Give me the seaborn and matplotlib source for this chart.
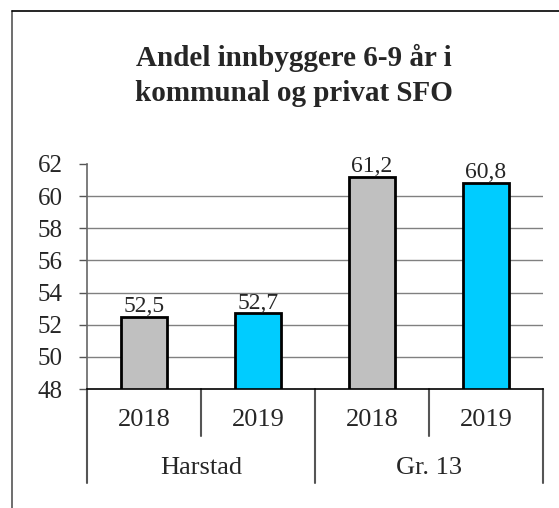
import matplotlib
matplotlib.use("Agg")
import matplotlib.pyplot as plt
import matplotlib.transforms as mtransforms
from matplotlib.lines import Line2D
import seaborn as sns
import pandas as pd

# Data
groups = ["Harstad", "Harstad", "Gr. 13", "Gr. 13"]
years = ["2018", "2019", "2018", "2019"]
values = [52.5, 52.7, 61.2, 60.8]
value_labels = ["52,5", "52,7", "61,2", "60,8"]
title_lines = ["Andel innbyggere 6-9 år i", "kommunal og privat SFO"]
yticks = [48, 50, 52, 54, 56, 58, 60, 62]
colors = {"2018": "#C0C0C0", "2019": "#00CCFF"}

sns.set_theme(style="white")
plt.rcParams["font.family"] = ["Liberation Serif", "DejaVu Serif"]

df = pd.DataFrame({
    "key": [f"{g} {y}" for g, y in zip(groups, years)],
    "year": years,
    "value": values,
})

W, H = 559, 508
fig = plt.figure(figsize=(W / 100, H / 100), dpi=100)
fig.patch.set_facecolor("white")

ax = fig.add_axes([87 / W, (H - 389) / H, (543 - 87) / W, (389 - 164) / H])

sns.barplot(data=df, x="key", y="value", hue="year", palette=colors,
            width=0.4, edgecolor="black", linewidth=2, legend=False,
            dodge=False, saturation=1, ax=ax, zorder=3)

ax.set_ylim(48, 62)
ax.set_xlim(-0.5, 3.5)
ax.set_yticks(yticks)
ax.set_yticklabels([str(t) for t in yticks], fontsize=18)
ax.tick_params(axis="y", length=5.5, width=1, color="#555555", pad=12, left=True)
ax.tick_params(axis="x", length=0, labelbottom=False)
ax.set_xlabel("")
ax.set_ylabel("")

for t in yticks[1:-1]:
    ax.axhline(t, color="#808080", lw=1, zorder=1)

for s in ["top", "right"]:
    ax.spines[s].set_visible(False)
ax.spines["left"].set_color("#666666")
ax.spines["left"].set_linewidth(1.2)
ax.spines["bottom"].set_color("black")
ax.spines["bottom"].set_linewidth(1.2)
ax.spines["bottom"].set_zorder(4)

# value labels
for i, (v, lab) in enumerate(zip(values, value_labels)):
    ax.annotate(lab, (i, v), xytext=(0, 3.5), textcoords="offset points",
                ha="center", va="baseline", fontsize=17)

# multi-level category axis
trans = mtransforms.blended_transform_factory(ax.transData, ax.transAxes)
axes_h = 389 - 164
long_d = -94 / axes_h
short_d = -47 / axes_h
for xpos, d in zip([-0.5, 0.5, 1.5, 2.5, 3.5], [long_d, short_d, long_d, short_d, long_d]):
    ax.add_line(Line2D([xpos, xpos], [0, d], transform=trans, color="#555555",
                       lw=1.5, clip_on=False))
for i, y in enumerate(years):
    ax.text(i, -31 / axes_h, y, transform=trans, ha="center", va="center", fontsize=19)
for xc, g in [(0.5, "Harstad"), (2.5, "Gr. 13")]:
    ax.text(xc, -79 / axes_h, g, transform=trans, ha="center", va="center", fontsize=19)

# title (two lines, baselines measured from reference)
for line, base in zip(title_lines, [66, 101]):
    fig.text(294 / W, 1 - base / H, line, ha="center", va="baseline", fontsize=21,
             fontweight="bold")

# outer frame (left and top only visible)
fig.add_artist(Line2D([12 / W, 12 / W], [1 - 11 / H, 0], transform=fig.transFigure,
                      color="#555555", lw=1.2))
fig.add_artist(Line2D([12 / W, 1], [1 - 11 / H, 1 - 11 / H], transform=fig.transFigure,
                      color="black", lw=1.2))

fig.savefig("out.png", dpi=100)
